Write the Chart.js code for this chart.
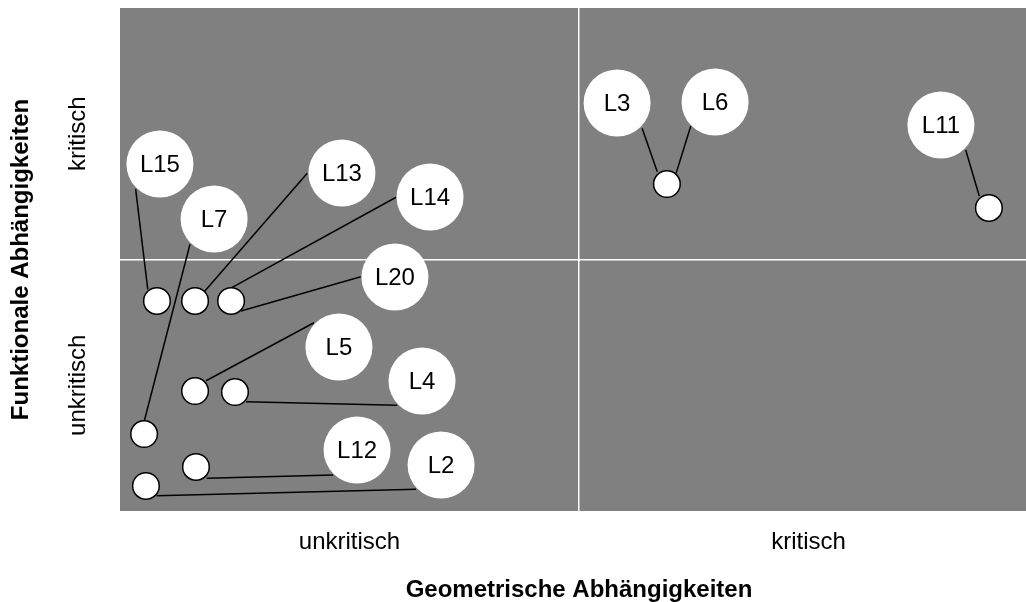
<!DOCTYPE html>
<html>
<head>
<meta charset="utf-8">
<script src="https://cdn.jsdelivr.net/npm/chart.js@4.4.0/dist/chart.umd.min.js"></script>
<style>
  body { margin: 0; background: #fff; }
  #wrap { width: 1026px; height: 602px; overflow: hidden; }
</style>
</head>
<body>
<div id="wrap"><canvas id="chart" width="1040" height="602"></canvas></div>
<script>
// axis categories (each axis split in two halves)
const xCategories = ['unkritisch', 'kritisch'];
const yCategories = ['unkritisch', 'kritisch'];
const xTitle = 'Geometrische Abhängigkeiten';
const yTitle = 'Funktionale Abhängigkeiten';

// small circles (the actual items), axis units 0..4, split at 2
const pointX = [0.161, 0.327, 0.484, 0.105, 0.327, 0.501, 0.331, 0.113, 2.383, 3.786];
const pointY = [1.670, 1.670, 1.670, 0.612, 0.954, 0.946, 0.350, 0.199, 2.600, 2.410];

// big label circles
const labelNames = ['L15', 'L7', 'L13', 'L14', 'L20', 'L5', 'L4', 'L12', 'L2', 'L3', 'L6', 'L11'];
const labelX = [0.174, 0.410, 0.967, 1.351, 1.198, 0.954, 1.316, 1.033, 1.399, 2.166, 2.593, 3.577];
const labelY = [2.759, 2.322, 2.688, 2.497, 1.861, 1.304, 1.034, 0.485, 0.366, 3.245, 3.252, 3.070];

// leader lines, from label edge to item edge
const leadFromX = [0.068, 0.305, 0.816, 1.203, 1.049, 0.845, 1.208, 0.929, 1.290, 2.275, 2.487, 3.685];
const leadFromY = [2.561, 2.121, 2.685, 2.495, 1.863, 1.497, 0.841, 0.286, 0.173, 3.043, 3.062, 2.871];
const leadToX = [0.121, 0.106, 0.367, 0.487, 0.527, 0.375, 0.549, 0.378, 0.160, 2.341, 2.423, 3.744];
const leadToY = [1.763, 0.718, 1.744, 1.776, 1.590, 1.036, 0.869, 0.260, 0.122, 2.698, 2.685, 2.505];

const FONT = "'Liberation Sans', Arial, sans-serif";

const leaderSets = labelNames.map((name, i) => ({
    label: name + ' line',
    data: [{ x: leadFromX[i], y: leadFromY[i] }, { x: leadToX[i], y: leadToY[i] }],
    showLine: true,
    borderColor: '#000',
    borderWidth: 1.5,
    pointRadius: 0,
    order: 3
}));

const plotBackground = {
    id: 'plotBackground',
    beforeDraw(chart) {
        const { ctx, chartArea: a } = chart;
        ctx.save();
        ctx.fillStyle = '#808080';
        ctx.fillRect(a.left, a.top, a.right - a.left, a.bottom - a.top);
        ctx.restore();
    }
};

const labelText = {
    id: 'labelText',
    afterDatasetsDraw(chart) {
        const idx = chart.data.datasets.findIndex(d => d.label === 'labels');
        const meta = chart.getDatasetMeta(idx);
        const ctx = chart.ctx;
        ctx.save();
        ctx.font = '24px ' + FONT;
        ctx.fillStyle = '#000';
        ctx.textAlign = 'center';
        ctx.textBaseline = 'middle';
        meta.data.forEach((el, i) => {
            ctx.fillText(labelNames[i], el.x, el.y + 1);
        });
        ctx.restore();
    }
};

function splitGrid(ctx) {
    return ctx.tick && ctx.tick.value === 2 ? '#ffffff' : 'rgba(0,0,0,0)';
}

new Chart(document.getElementById('chart'), {
    type: 'scatter',
    data: {
        datasets: [
            {
                label: 'labels',
                data: labelNames.map((n, i) => ({ x: labelX[i], y: labelY[i] })),
                pointRadius: 33.5,
                pointBackgroundColor: '#ffffff',
                pointBorderWidth: 0,
                order: 1
            },
            {
                label: 'items',
                data: pointX.map((x, i) => ({ x: x, y: pointY[i] })),
                pointRadius: 13.3,
                pointBackgroundColor: '#ffffff',
                pointBorderColor: '#000',
                pointBorderWidth: 1.5,
                order: 2
            },
            ...leaderSets
        ]
    },
    options: {
        responsive: false,
        devicePixelRatio: 1,
        animation: false,
        layout: { autoPadding: false, padding: { top: 8, right: 2, bottom: 0, left: 0 } },
        plugins: { legend: { display: false }, tooltip: { enabled: false } },
        scales: {
            x: {
                type: 'linear',
                min: 0,
                max: 4,
                afterBuildTicks: axis => { axis.ticks = [1, 2, 3].map(v => ({ value: v })); },
                afterFit: scale => {
                    scale.height = 91;
                    scale.paddingLeft = 0;
                    scale.paddingRight = 0;
                },
                border: { display: false },
                grid: { color: splitGrid, lineWidth: 1.5, drawTicks: false },
                ticks: {
                    padding: 17,
                    color: '#000',
                    font: { family: FONT, size: 24 },
                    maxRotation: 0,
                    callback: v => v === 1 ? xCategories[0] : v === 3 ? xCategories[1] : ''
                },
                title: {
                    display: true,
                    text: xTitle,
                    color: '#000',
                    font: { family: FONT, size: 24, weight: 'bold' },
                    padding: { top: 0, bottom: -3 }
                }
            },
            y: {
                type: 'linear',
                min: 0,
                max: 4,
                afterBuildTicks: axis => { axis.ticks = [1, 2, 3].map(v => ({ value: v })); },
                afterFit: scale => {
                    scale.width = 120;
                    scale.paddingTop = 0;
                    scale.paddingBottom = 0;
                },
                border: { display: false },
                grid: { color: splitGrid, lineWidth: 1.5, drawTicks: false },
                ticks: {
                    padding: -9,
                    minRotation: 90,
                    maxRotation: 90,
                    crossAlign: 'center',
                    color: '#000',
                    font: { family: FONT, size: 24 },
                    callback: v => v === 1 ? yCategories[0] : v === 3 ? yCategories[1] : ''
                },
                title: {
                    display: true,
                    text: yTitle,
                    color: '#000',
                    font: { family: FONT, size: 24, weight: 'bold' },
                    padding: { top: 7, bottom: 0 }
                }
            }
        }
    },
    plugins: [plotBackground, labelText]
});
</script>
</body>
</html>
